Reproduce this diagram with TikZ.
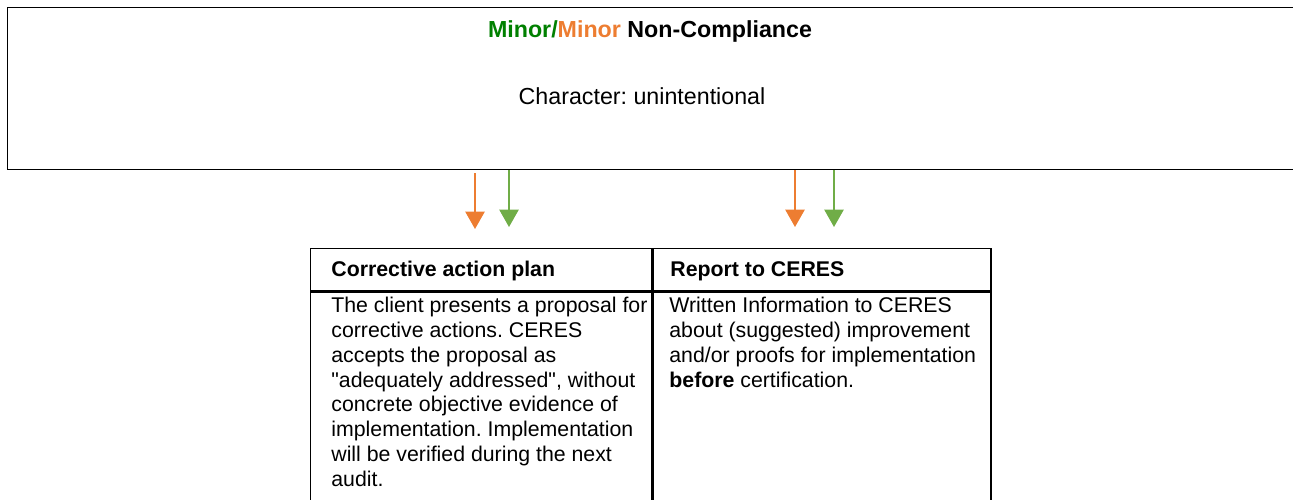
\documentclass[tikz,border=0pt]{standalone}
\usepackage{fontspec}
\setmainfont{Liberation Sans}
\usetikzlibrary{positioning, arrows.meta, calc}

\definecolor{ncgreen}{HTML}{008000}
\definecolor{ncorange}{HTML}{ED7D31}
\definecolor{arrgreen}{HTML}{70AD47}

% one drawing unit = one pixel of the page
\newcommand\pxu{0.5165pt}
\frenchspacing

\begin{document}
\begin{tikzpicture}[x=0.5165pt, y=-0.5165pt,
    frame/.style={draw, line width=0.75pt, inner sep=0pt, anchor=north west},
    celltext/.style={anchor=north west, align=left, inner sep=0pt,
        font=\fontsize{11}{12.8}\selectfont},
    downarrow/.style={-{Triangle[width=10pt, length=9pt]}, line width=0.8pt}]
    \clip (0,0) rectangle (1293,499);

    % Non-compliance box at top
    \node[frame, minimum width=1293*\pxu, minimum height=162*\pxu] (nc) at (7,7) {};
    \node[anchor=base, font=\fontsize{12}{14}\selectfont\bfseries] (title) at (650,37)
        {\textcolor{ncgreen}{Minor/}\textcolor{ncorange}{Minor} Non-Compliance};
    \node[anchor=base, font=\fontsize{12}{14}\selectfont] (kind) at (642,104)
        {Character: unintentional};

    % Arrow tips above the table
    \coordinate (tipOa) at (475,229);
    \coordinate (tipGa) at (509,227);
    \coordinate (tipOb) at (795,227);
    \coordinate (tipGb) at (834,227);

    \draw[downarrow, ncorange] ($(nc.south -| tipOa)+(0,3)$) -- (tipOa);
    \draw[downarrow, arrgreen] (nc.south -| tipGa) -- (tipGa);
    \draw[downarrow, ncorange] (nc.south -| tipOb) -- (tipOb);
    \draw[downarrow, arrgreen] (nc.south -| tipGb) -- (tipGb);

    % Table cells
    \node[frame, minimum width=341*\pxu, minimum height=42*\pxu] (headA) at (310,248) {};
    \node[frame, minimum width=338*\pxu, minimum height=42*\pxu] (headB) at (headA.north east) {};
    \node[frame, minimum width=341*\pxu, minimum height=240*\pxu] (bodyA) at (headA.south west) {};
    \node[frame, minimum width=338*\pxu, minimum height=240*\pxu] (bodyB) at (headB.south west) {};

    % Cell texts
    \node[celltext, anchor=base west, font=\fontsize{11}{12.8}\selectfont\bfseries] (planHead) at (331,276)
        {Corrective action plan};
    \node[celltext, anchor=base west, font=\fontsize{11}{12.8}\selectfont\bfseries] (reportHead) at (670,276)
        {Report to CERES};
    \node[celltext] (planText) at (331,297)
        {The client presents a proposal for\\
         corrective actions. CERES\\
         accepts the proposal as\\
         \textquotedbl adequately addressed\textquotedbl, without\\
         concrete objective evidence of\\
         implementation. Implementation\\
         will be verified during the next\\
         audit.};
    \node[celltext] (reportText) at (669,297)
        {Written Information to CERES\\
         about (suggested) improvement\\
         and/or proofs for implementation\\
         \textbf{before} certification.};
\end{tikzpicture}
\end{document}
